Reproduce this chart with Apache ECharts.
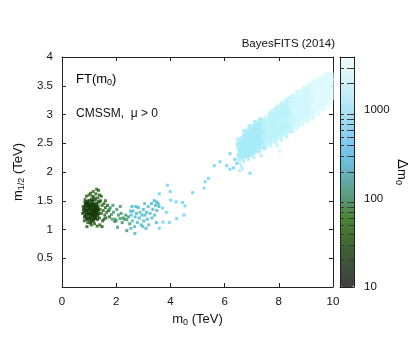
<!DOCTYPE html>
<html>
<head>
<meta charset="utf-8">
<script src="https://cdn.jsdelivr.net/npm/echarts@6/dist/echarts.min.js"></script>
<style>
html,body{margin:0;padding:0;background:#fff}
#main{width:415px;height:356px}
</style>
</head>
<body>
<div id="main"></div>
<script>
// axis ticks
var xTicks = [0, 10, 2];          // min, max, step of m0 (TeV)
var yTicks = [0, 4, 0.5];         // min, max, step of m1/2 (TeV)
var cbMajor = [10, 100, 1000];
var cbMinor = [20, 30, 40, 50, 60, 70, 80, 90, 200, 300, 400, 500, 600, 700, 800, 900, 2000, 3000];
var cbRange = [10, 4000];

// scan points, grouped by fine-tuning level Delta_m0, [m0, m1/2] in TeV
var core15 = [[0.82,1.30],[0.85,1.38],[0.88,1.25],[0.90,1.45],[0.92,1.33],[0.95,1.20],[0.96,1.40],[0.98,1.28],[1.00,1.50],[1.02,1.35],
  [1.04,1.22],[1.05,1.44],[1.07,1.30],[1.09,1.38],[1.10,1.17],[1.12,1.48],[1.13,1.26],[1.15,1.34],[1.17,1.42],[1.18,1.20],
  [1.20,1.31],[1.22,1.52],[1.23,1.38],[1.25,1.24],[1.27,1.45],[1.28,1.33],[1.30,1.18],[1.32,1.40],[1.34,1.28],[1.36,1.48],
  [0.80,1.35],[0.84,1.22],[0.87,1.42],[0.93,1.48],[0.94,1.27],[0.99,1.36],[1.01,1.18],[1.06,1.40],[1.08,1.25],[1.11,1.33],
  [1.14,1.44],[1.16,1.23],[1.19,1.37],[1.21,1.27],[1.24,1.42],[1.26,1.30],[1.29,1.36],[1.31,1.25],[0.89,1.33],[0.97,1.44],
  [1.03,1.28],[1.10,1.52],[1.18,1.30],[1.15,1.15],[0.91,1.18],[1.05,1.12],[1.33,1.34],[1.22,1.20],[0.86,1.47],[1.00,1.42]];
var edge30 = [[0.76,1.28],[0.78,1.40],[0.82,1.15],[0.85,1.52],[0.90,1.58],[0.95,1.12],[1.00,1.60],[1.05,1.63],[1.08,1.08],[1.12,1.58],
  [1.15,1.66],[1.20,1.10],[1.25,1.62],[1.28,1.70],[1.32,1.55],[1.35,1.68],[1.38,1.20],[1.40,1.35],[1.42,1.50],[1.45,1.28],
  [1.48,1.42],[1.50,1.15],[1.52,1.33],[1.55,1.45],[1.58,1.25],[1.60,1.38],[1.62,1.20],[1.65,1.30],[1.68,1.42],[1.40,1.08],
  [1.30,1.06],[1.45,1.58],[1.38,1.60],[1.55,1.18],[1.72,1.33],[1.75,1.22],[1.48,1.05],[1.18,1.56],[0.92,1.05],[1.60,1.50]];
var trail70 = [[1.78,1.38],[1.82,1.26],[1.85,1.18],[1.90,1.30],[1.94,1.14],[1.96,1.18],[2.00,1.15],[2.02,1.35],[2.08,1.25],[2.14,1.19],
  [2.18,1.28],[2.22,1.12],[2.25,1.20],[2.30,1.18],[2.35,1.25],[2.39,1.17],[2.39,0.98],[2.45,1.22],[1.88,1.42],[2.05,1.04],
  [2.15,1.40],[2.50,1.10],[1.75,1.35]];
var trail200 = [[2.53,1.32],[2.58,1.40],[2.54,1.02],[2.69,0.93],[2.55,1.25],[2.60,1.15],[2.62,1.32],[2.68,1.05],[2.70,1.22],[2.75,1.28],
  [2.78,1.12],[2.82,1.38],[2.85,1.20],[2.88,1.30],[2.92,1.08],[2.95,1.25],[3.00,1.35],[3.02,1.15],[3.05,1.45],[3.06,1.25],
  [3.10,1.02],[3.12,1.30],[3.15,1.18],[3.18,1.40],[3.20,1.08],[3.25,1.28],[3.30,1.45],[3.32,1.20],[3.35,1.35],[3.40,1.50],
  [3.42,1.25],[3.45,1.42],[3.49,1.48],[3.50,1.33],[3.55,1.45],[3.58,1.40],[2.72,1.40],[2.98,1.05],[3.48,1.12]];
var blue450 = [[3.59,1.62],[3.71,1.37],[3.73,1.13],[3.89,1.77],[3.96,1.12],[3.99,1.66],[4.01,1.51],[4.21,1.48],[4.23,1.19],[4.45,1.47],
  [4.50,1.25],[4.54,1.41],[3.59,1.02],[4.82,1.64],[5.24,1.72],[5.28,1.83],[5.40,1.89],[5.62,2.11],[5.83,2.18],[6.08,2.11],
  [6.20,2.05],[6.33,2.07],[6.20,2.32],[6.45,2.15],[6.94,1.98],[3.85,1.30],[6.38,2.22]];
var fringe1000 = [[6.48,2.57],[6.45,2.48],[6.52,2.38],[6.55,2.15],[6.62,2.10],[6.70,2.18],[6.72,2.72],[6.88,2.22],[6.92,2.80],[7.08,2.25],
  [7.12,2.88],[7.28,2.34],[7.30,2.93],[7.45,2.40],[6.50,2.30],[6.66,2.05],[7.35,2.28],[6.55,2.02]];
var cloud1000 = [[6.60,2.26],[6.62,2.36],[6.58,2.46],[6.63,2.53],[6.80,2.30],[6.78,2.40],[6.82,2.50],[6.79,2.60],[6.81,2.68],
  [7.00,2.36],[6.98,2.46],[7.02,2.56],[7.00,2.66],[6.99,2.76],[7.20,2.42],[7.18,2.52],[7.21,2.62],[7.19,2.72],[7.20,2.82],
  [7.40,2.47],[7.39,2.57],[7.41,2.67],[7.40,2.77],[7.38,2.87],[6.70,2.32],[6.70,2.55],[6.90,2.42],[6.90,2.62],[7.10,2.48],
  [7.10,2.70],[7.30,2.55],[7.30,2.78],[6.70,2.44],[6.90,2.52],[7.10,2.59],[7.30,2.66],[6.90,2.33],[7.10,2.40]];
var fringe1500 = [[7.55,2.42],[7.65,3.02],[7.72,2.45],[7.85,3.10],[7.90,2.50],[8.05,3.18],[8.10,2.55],[8.25,3.25],[8.30,2.60],[8.45,3.32],
  [8.05,2.36],[7.95,2.45]];
var cloud1500 = [[7.60,2.52],[7.61,2.62],[7.59,2.72],[7.60,2.82],[7.62,2.92],[7.80,2.57],[7.79,2.67],[7.81,2.77],[7.80,2.87],[7.78,2.97],
  [7.80,3.03],[8.00,2.62],[8.01,2.72],[7.99,2.82],[8.00,2.92],[8.02,3.02],[8.00,3.10],[8.20,2.68],[8.19,2.78],[8.21,2.88],
  [8.20,2.98],[8.18,3.08],[8.20,3.17],[8.40,2.74],[8.41,2.84],[8.39,2.94],[8.40,3.04],[8.42,3.14],[8.40,3.24],
  [7.50,2.60],[7.50,2.80],[7.70,2.65],[7.70,2.85],[7.90,2.70],[7.90,2.95],[8.10,2.75],[8.10,3.00],[8.30,2.82],[8.30,3.08]];
var fringe2200 = [[8.55,2.72],[8.65,3.40],[8.75,2.80],[8.90,3.46],[9.05,2.88],[9.10,3.52],[9.25,2.94],[9.30,3.58]];
var cloud2200 = [[8.60,2.80],[8.61,2.90],[8.59,3.00],[8.60,3.10],[8.62,3.20],[8.60,3.30],[8.80,2.87],[8.79,2.97],[8.81,3.07],[8.80,3.17],
  [8.78,3.27],[8.80,3.37],[9.00,2.94],[9.01,3.04],[8.99,3.14],[9.00,3.24],[9.02,3.34],[9.00,3.43],[9.20,3.00],[9.19,3.10],
  [9.21,3.20],[9.20,3.30],[9.18,3.40],[9.20,3.49],[8.50,2.90],[8.50,3.15],[8.70,2.95],[8.70,3.22],[8.90,3.02],[8.90,3.30],
  [9.10,3.08],[9.10,3.36]];
var fringe3000 = [[9.45,3.00],[9.50,3.63],[9.65,3.08],[9.70,3.68],[9.85,3.16],[9.90,3.72],[9.95,3.25]];
var cloud3000 = [[9.40,3.07],[9.41,3.17],[9.39,3.27],[9.40,3.37],[9.42,3.47],[9.40,3.55],[9.60,3.14],[9.59,3.24],[9.61,3.34],[9.60,3.44],
  [9.58,3.54],[9.60,3.61],[9.78,3.22],[9.77,3.32],[9.79,3.42],[9.78,3.52],[9.77,3.62],[9.79,3.66],[9.88,3.32],[9.88,3.44],
  [9.88,3.56],[9.88,3.66],[9.30,3.15],[9.30,3.42],[9.50,3.22],[9.50,3.48],[9.70,3.28],[9.70,3.56]];

var groups = [
  {d: 30, pts: edge30, size: 3},
  {d: 15, pts: core15, size: 3.5},
  {d: 70, pts: trail70, size: 3},
  {d: 200, pts: trail200, size: 3},
  {d: 450, pts: blue450, size: 3},
  {d: 1000, pts: fringe1000, size: 3},
  {d: 1500, pts: fringe1500, size: 3},
  {d: 2200, pts: fringe2200, size: 3},
  {d: 3000, pts: fringe3000, size: 3},
  {d: 1000, pts: cloud1000, size: 8},
  {d: 1500, pts: cloud1500, size: 8},
  {d: 2200, pts: cloud2200, size: 8},
  {d: 3000, pts: cloud3000, size: 8}
];

var FONT = "'Liberation Sans', Arial, Helvetica, sans-serif";
var lg = function (v) { return Math.log10(v); };

var myChart = echarts.init(document.getElementById('main'));

var series = [];
var pointIdx = [];
for (var i = 0; i < groups.length; i++) {
  var g = groups[i];
  pointIdx.push(series.length);
  series.push({
    type: 'scatter',
    xAxisIndex: 0,
    yAxisIndex: 0,
    symbol: 'rect',
    symbolSize: g.size,
    silent: true,
    data: g.pts.map(function (p) { return [p[0], p[1], lg(g.d)]; })
  });
}
// empty series, only to carry the colour bar
var dummyIdx = series.length;
series.push({type: 'scatter', xAxisIndex: 2, yAxisIndex: 2, data: []});

var axisCol = '#222';
var lblStyle = {color: '#111', fontSize: 11.5, fontFamily: FONT};
var nameRich = {
  n: {fontSize: 13, fontFamily: FONT, color: '#111'},
  s: {fontSize: 9, fontFamily: FONT, color: '#111', padding: [7, 0, 0, 0]},
  d: {fontSize: 15, fontFamily: FONT, color: '#111'}
};

var option = {
  animation: false,
  backgroundColor: '#fff',
  grid: [
    {left: 62, top: 57, width: 271, height: 230},
    {left: 340, top: 57, width: 14, height: 230}
  ],
  visualMap: [
    {
      type: 'continuous', show: false, seriesIndex: pointIdx, dimension: 2,
      min: lg(cbRange[0]), max: lg(cbRange[1]),
      inRange: {color: ['#0a2802', '#123c06', '#1e560e', '#2a6e1e', '#36905c', '#3aa088', '#40b0b8',
        '#4cc0dc', '#5ccdf0', '#84dcf6', '#a6ebf9', '#bef3fa', '#d6f8fb', '#ecfdfd']}
    },
    {
      type: 'continuous', show: true, seriesIndex: [dummyIdx], calculable: false,
      min: lg(cbRange[0]), max: lg(cbRange[1]),
      left: 340, top: 57, itemWidth: 14, itemHeight: 230, padding: 0, text: null,
      inRange: {color: ['#404040', '#3e4e3c', '#3e5e34', '#437430', '#4c8638', '#589a78', '#62aaa6',
        '#6cbcd8', '#7ac8f0', '#92d6f4', '#aee4f4', '#c6eef6', '#dcf6f8', '#f2fcfc']}
    }
  ],
  xAxis: [
    {
      gridIndex: 0, type: 'value', position: 'bottom',
      min: xTicks[0], max: xTicks[1], interval: xTicks[2],
      axisLine: {show: true, onZero: false, lineStyle: {color: axisCol}},
      axisTick: {inside: true, length: 4, lineStyle: {color: axisCol}},
      axisLabel: Object.assign({margin: 9}, lblStyle),
      splitLine: {show: false},
      name: '{n|m}{s|0}{n| (TeV)}', nameLocation: 'middle', nameGap: 24,
      nameTextStyle: {rich: nameRich}
    },
    {
      gridIndex: 0, type: 'value', position: 'top',
      min: xTicks[0], max: xTicks[1], interval: xTicks[2],
      axisLine: {show: true, onZero: false, lineStyle: {color: axisCol}},
      axisTick: {inside: true, length: 4, lineStyle: {color: axisCol}},
      axisLabel: {show: false}, splitLine: {show: false}
    },
    {
      gridIndex: 1, type: 'value', position: 'bottom', min: 0, max: 1, z: 10,
      axisLine: {show: true, onZero: false, lineStyle: {color: axisCol}},
      axisTick: {show: false}, axisLabel: {show: false}, splitLine: {show: false}
    },
    {
      gridIndex: 1, type: 'value', position: 'top', min: 0, max: 1, z: 10,
      axisLine: {show: true, onZero: false, lineStyle: {color: axisCol}},
      axisTick: {show: false}, axisLabel: {show: false}, splitLine: {show: false}
    }
  ],
  yAxis: [
    {
      gridIndex: 0, type: 'value', position: 'left',
      min: yTicks[0], max: yTicks[1], interval: yTicks[2],
      axisLine: {show: true, onZero: false, lineStyle: {color: axisCol}},
      axisTick: {inside: true, length: 4, lineStyle: {color: axisCol}},
      axisLabel: Object.assign({margin: 9, showMinLabel: false}, lblStyle),
      splitLine: {show: false},
      name: '{n|m}{s|1/2}{n| (TeV)}', nameLocation: 'middle', nameGap: 31, nameRotate: 90,
      nameTextStyle: {rich: nameRich}
    },
    {
      gridIndex: 0, type: 'value', position: 'right',
      min: yTicks[0], max: yTicks[1], interval: yTicks[2],
      axisLine: {show: true, onZero: false, lineStyle: {color: axisCol}},
      axisTick: {inside: true, length: 4, lineStyle: {color: axisCol}},
      axisLabel: {show: false}, splitLine: {show: false}
    },
    {
      gridIndex: 1, type: 'value', position: 'left', z: 10,
      min: lg(cbRange[0]), max: lg(cbRange[1]), interval: 1,
      axisLine: {show: true, onZero: false, lineStyle: {color: axisCol}},
      axisTick: {inside: true, length: 3, customValues: cbMinor.map(lg), lineStyle: {color: '#333'}},
      axisLabel: {show: false},
      splitLine: {show: true, lineStyle: {color: '#444', type: [4, 3], width: 1}}
    },
    {
      gridIndex: 1, type: 'value', position: 'right', z: 10,
      min: lg(cbRange[0]), max: lg(cbRange[1]), interval: 1,
      axisLine: {show: true, onZero: false, lineStyle: {color: axisCol}},
      axisTick: {inside: true, length: 3, customValues: cbMinor.map(lg), lineStyle: {color: '#333'}},
      axisLabel: Object.assign({
        margin: 10, customValues: cbMajor.map(lg),
        formatter: function (v) { return String(Math.round(Math.pow(10, v))); }
      }, lblStyle),
      splitLine: {show: false},
      name: '{d|Δ}{n|m}{s|0}', nameLocation: 'middle', nameGap: 40, nameRotate: -90,
      nameTextStyle: {rich: nameRich}
    }
  ],
  graphic: [
    {
      type: 'text', x: 335, y: 44, silent: true,
      style: {text: 'BayesFITS (2014)', align: 'right', verticalAlign: 'middle',
        font: '11.5px ' + FONT, fill: '#111'}
    },
    {
      type: 'text', x: 76, y: 79, silent: true,
      style: {text: '{n|FT(m}{s|0}{n|)}', rich: nameRich, align: 'left', verticalAlign: 'middle'}
    },
    {
      type: 'text', x: 76, y: 114, silent: true,
      style: {text: 'CMSSM,  μ > 0', align: 'left', verticalAlign: 'middle',
        font: '12px ' + FONT, fill: '#111'}
    }
  ],
  series: series
};

myChart.setOption(option);
window.onresize = myChart.resize;
</script>
</body>
</html>
